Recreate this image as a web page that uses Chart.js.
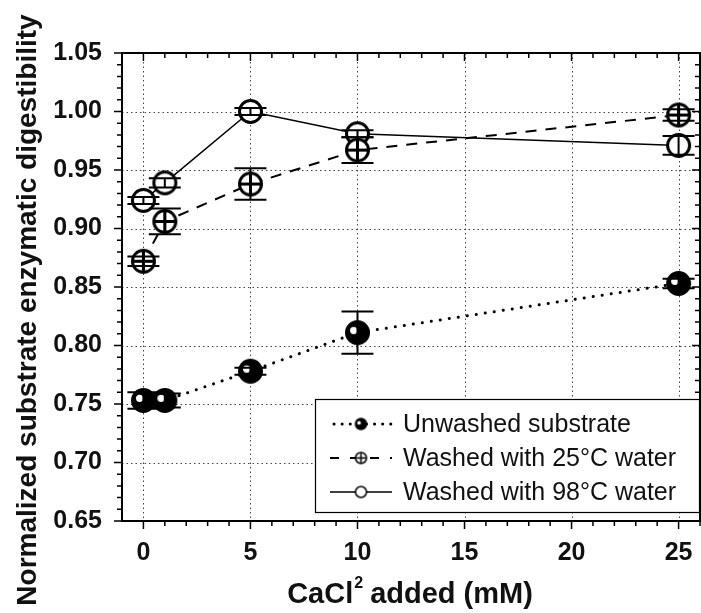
<!DOCTYPE html>
<html lang="en">
<head>
    <meta charset="UTF-8">
    <title>CaCl2 digestibility</title>
    <script src="https://cdn.jsdelivr.net/npm/chart.js"></script>
    <style>
        html, body { margin: 0; padding: 0; background: #fff; }
        canvas { display: block; }
    </style>
</head>
<body>
    <canvas id="chart" width="701" height="613"></canvas>

    <script>
        // Data
        const xValues = [0, 1, 5, 10, 25];
        const unwashed = [0.753, 0.753, 0.778, 0.811, 0.853];
        const unwashedErr = [0.007, 0.006, 0.003, 0.018, 0.004];
        const washed25 = [0.872, 0.906, 0.938, 0.967, 0.997];
        const washed25Err = [0.004, 0.011, 0.0135, 0.011, 0.005];
        const washed98 = [0.924, 0.939, 1.000, 0.981, 0.971];
        const washed98Err = [0.003, 0.004, 0.003, 0.003, 0.008];

        const seriesNames = ['Unwashed substrate', 'Washed with 25\u00B0C water', 'Washed with 98\u00B0C water'];
        const xTicks = [0, 5, 10, 15, 20, 25];
        const yTicks = [0.65, 0.70, 0.75, 0.80, 0.85, 0.90, 0.95, 1.00, 1.05];

        const FONT = '"Liberation Sans", Arial, Helvetica, sans-serif';

        // Marker images (filled with highlight, circle-plus, open circle)
        function makeMarker(kind, r, lw) {
            const c = document.createElement('canvas');
            const size = Math.ceil(2 * r + lw + 2);
            c.width = size;
            c.height = size;
            const g = c.getContext('2d');
            const m = size / 2;
            g.lineWidth = lw;
            g.strokeStyle = '#000';
            g.beginPath();
            g.arc(m, m, r, 0, Math.PI * 2);
            if (kind === 'filled') {
                g.fillStyle = '#000';
                g.fill();
                g.stroke();
                g.fillStyle = '#fff';
                g.beginPath();
                g.arc(m - r * 0.35, m - r * 0.2, r * 0.33, 0, Math.PI * 2);
                g.fill();
            } else {
                g.fillStyle = '#fff';
                g.fill();
                g.stroke();
                if (kind === 'plus') {
                    g.beginPath();
                    g.moveTo(m - r, m); g.lineTo(m + r, m);
                    g.moveTo(m, m - r); g.lineTo(m, m + r);
                    g.stroke();
                }
            }
            return c;
        }

        const markers = [makeMarker('filled', 11, 3), makeMarker('plus', 11, 3), makeMarker('open', 11, 3)];
        const smallMarkers = [makeMarker('filled', 5.5, 1.5), makeMarker('plus', 5.5, 1.5), makeMarker('open', 5.5, 1.5)];
        const dashes = [[0.1, 9], [11, 9], []];
        const widths = [3, 2, 1.5];
        const errors = [unwashedErr, washed25Err, washed98Err];

        function toPoints(ys) {
            return xValues.map((x, i) => ({ x: x, y: ys[i] }));
        }

        // Dotted grid, frame, ticks, error bars, legend and axis titles
        const decorations = {
            id: 'decorations',
            beforeDatasetsDraw(chart) {
                const { ctx, chartArea: a, scales: { x, y } } = chart;
                ctx.save();
                ctx.strokeStyle = '#444';
                ctx.lineWidth = 1;
                ctx.setLineDash([1.5, 3]);
                ctx.beginPath();
                xTicks.forEach(v => {
                    const px = Math.round(x.getPixelForValue(v)) + 0.5;
                    ctx.moveTo(px, a.top); ctx.lineTo(px, a.bottom);
                });
                yTicks.slice(1, -1).forEach(v => {
                    const py = Math.round(y.getPixelForValue(v)) + 0.5;
                    ctx.moveTo(a.left, py); ctx.lineTo(a.right, py);
                });
                ctx.stroke();
                ctx.restore();
            },
            afterDatasetsDraw(chart) {
                const { ctx, chartArea: a, scales: { x, y } } = chart;
                ctx.save();

                // error bars
                ctx.strokeStyle = '#000';
                ctx.lineWidth = 2;
                chart.data.datasets.forEach((ds, d) => {
                    ds.data.forEach((p, i) => {
                        const px = x.getPixelForValue(p.x);
                        const top = y.getPixelForValue(p.y + errors[d][i]);
                        const bot = y.getPixelForValue(p.y - errors[d][i]);
                        ctx.beginPath();
                        ctx.moveTo(px, top); ctx.lineTo(px, bot);
                        ctx.moveTo(px - 16, top); ctx.lineTo(px + 16, top);
                        ctx.moveTo(px - 16, bot); ctx.lineTo(px + 16, bot);
                        ctx.stroke();
                    });
                });

                // frame
                ctx.lineWidth = 2;
                ctx.strokeRect(a.left, a.top, a.right - a.left, a.bottom - a.top);

                // ticks: outward on left/bottom, inward on top/right
                ctx.lineWidth = 1.5;
                ctx.beginPath();
                for (let v = 0; v <= 26; v++) {
                    const px = x.getPixelForValue(v);
                    const len = v % 5 === 0 ? 8 : 5;
                    ctx.moveTo(px, a.bottom); ctx.lineTo(px, a.bottom + len);
                    ctx.moveTo(px, a.top); ctx.lineTo(px, a.top + len);
                }
                for (let k = 65; k <= 105; k++) {
                    const py = y.getPixelForValue(k / 100);
                    const len = k % 5 === 0 ? 8 : 5;
                    ctx.moveTo(a.left, py); ctx.lineTo(a.left - len, py);
                    ctx.moveTo(a.right, py); ctx.lineTo(a.right - len, py);
                }
                ctx.stroke();
                ctx.restore();
            },
            afterDraw(chart) {
                const { ctx } = chart;
                ctx.save();

                // legend
                const box = { left: 315, top: 399, right: 700, bottom: 513 };
                ctx.fillStyle = '#fff';
                ctx.fillRect(box.left, box.top, box.right - box.left, box.bottom - box.top);
                ctx.strokeStyle = '#000';
                ctx.lineWidth = 1.2;
                ctx.strokeRect(box.left + 0.5, box.top + 0.5, box.right - box.left - 1, box.bottom - box.top - 1);
                const rows = [424, 458, 492];
                ctx.font = '25px ' + FONT;
                ctx.textBaseline = 'middle';
                rows.forEach((ry, d) => {
                    ctx.save();
                    ctx.strokeStyle = '#000';
                    ctx.lineWidth = widths[d];
                    ctx.lineCap = d === 0 ? 'round' : 'butt';
                    ctx.setLineDash(d === 0 ? [0.1, 8] : d === 1 ? [9, 11] : []);
                    ctx.beginPath();
                    ctx.moveTo(d === 0 ? 334 : 330, ry); ctx.lineTo(392, ry);
                    ctx.stroke();
                    ctx.restore();
                    const m = smallMarkers[d];
                    ctx.drawImage(m, 361 - m.width / 2, ry - m.height / 2);
                    ctx.fillStyle = '#111';
                    ctx.fillText(seriesNames[d], 403, ry + 1);
                });

                // axis titles
                ctx.fillStyle = '#111';
                ctx.font = 'bold 28px ' + FONT;
                ctx.textBaseline = 'alphabetic';
                ctx.save();
                ctx.translate(36, 310);
                ctx.rotate(-Math.PI / 2);
                ctx.textAlign = 'center';
                ctx.fillText('Normalized substrate enzymatic digestibility', 0, 0);
                ctx.restore();

                const part1 = 'CaCl';
                const part2 = ' added (mM)';
                ctx.font = 'bold 29px ' + FONT;
                const w1 = ctx.measureText(part1).width;
                const w3 = ctx.measureText(part2).width;
                ctx.font = 'bold 16px ' + FONT;
                const w2 = ctx.measureText('2').width;
                let sx = 410 - (w1 + w2 + w3) / 2;
                ctx.textAlign = 'left';
                ctx.font = 'bold 29px ' + FONT;
                ctx.fillText(part1, sx, 603);
                ctx.font = 'bold 16px ' + FONT;
                ctx.fillText('2', sx + w1 + 1, 588);
                ctx.font = 'bold 29px ' + FONT;
                ctx.fillText(part2, sx + w1 + w2, 603);
                ctx.restore();
            }
        };

        const ctx = document.getElementById('chart').getContext('2d');
        const chart = new Chart(ctx, {
            type: 'line',
            data: {
                datasets: [unwashed, washed25, washed98].map((ys, d) => ({
                    label: seriesNames[d],
                    data: toPoints(ys),
                    borderColor: '#000',
                    borderWidth: widths[d],
                    borderDash: dashes[d],
                    borderCapStyle: d === 0 ? 'round' : 'butt',
                    pointStyle: markers[d],
                    pointRadius: 11,
                    tension: 0,
                    fill: false,
                    clip: false
                }))
            },
            plugins: [decorations],
            options: {
                responsive: false,
                animation: false,
                devicePixelRatio: 1,
                layout: { autoPadding: false, padding: { top: 53, right: 1, left: 0, bottom: 0 } },
                plugins: {
                    legend: { display: false },
                    tooltip: { enabled: false }
                },
                scales: {
                    x: {
                        type: 'linear',
                        min: -1,
                        max: 26,
                        afterBuildTicks: s => { s.ticks = xTicks.map(v => ({ value: v })); },
                        afterFit: s => { s.height = 92; s.paddingLeft = 0; s.paddingRight = 0; },
                        grid: { display: false },
                        border: { display: false },
                        ticks: {
                            padding: 9,
                            color: '#111',
                            font: { family: FONT, size: 25, weight: 'bold' },
                            maxRotation: 0
                        }
                    },
                    y: {
                        type: 'linear',
                        min: 0.65,
                        max: 1.05,
                        afterBuildTicks: s => { s.ticks = yTicks.map(v => ({ value: v })); },
                        afterFit: s => { s.width = 122; s.paddingTop = 0; s.paddingBottom = 0; },
                        grid: { display: false },
                        border: { display: false },
                        ticks: {
                            padding: 12,
                            color: '#111',
                            font: { family: FONT, size: 25, weight: 'bold' },
                            callback: v => v.toFixed(2)
                        }
                    }
                }
            }
        });
    </script>
</body>
</html>
